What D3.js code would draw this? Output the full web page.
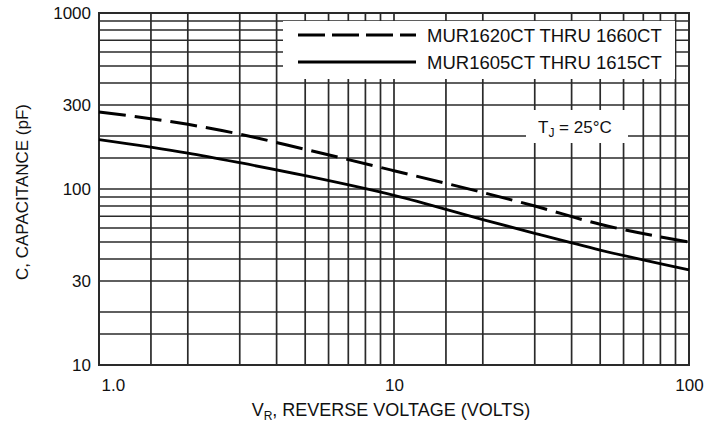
<!DOCTYPE html>
<html><head><meta charset="utf-8">
<script src="https://cdn.jsdelivr.net/npm/d3@7"></script>
<style>
body{margin:0;background:#fff;}
text{font-family:"Liberation Sans",Arial,sans-serif;fill:#111;}
</style></head>
<body><svg id="c" width="706" height="426"></svg>
<script>
// ---- data ----
const voltage  = [1, 2, 3, 5, 10, 20, 30, 50, 100];
const capHighV = [274, 233, 205, 168, 127, 95.5, 80, 63, 50];   // MUR1620CT THRU 1660CT
const capLowV  = [191, 160, 141, 119, 92, 67, 56, 45, 34.7];    // MUR1605CT THRU 1615CT
const seriesNames = ["MUR1620CT THRU 1660CT", "MUR1605CT THRU 1615CT"];
const xTickLabels = [1, 10, 100];
const yTickLabels = [10, 30, 100, 300, 1000];
const xGrid = [1,1.5,2,3,4,5,6,7,8,9,10,15,20,30,40,50,60,70,80,90,100];
const yGrid = [10,15,20,30,40,50,60,70,80,90,100,150,200,300,400,500,600,700,800,900,1000];

const svg = d3.select("#c");
const L = 99, R = 689, T = 13, B = 365;
const x = d3.scaleLog().domain([1,100]).range([L,R]);
const y = d3.scaleLog().domain([10,1000]).range([B,T]);

// grid
const g = svg.append("g");
g.selectAll(".vx").data(xGrid).join("line")
  .attr("x1", d=>x(d)).attr("x2", d=>x(d)).attr("y1", T).attr("y2", B)
  .attr("stroke", "#2a2a2a").attr("stroke-width", 1.7);
g.selectAll(".hy").data(yGrid).join("line")
  .attr("y1", d=>y(d)).attr("y2", d=>y(d)).attr("x1", L).attr("x2", R)
  .attr("stroke", "#2a2a2a").attr("stroke-width", 1.5);
g.append("rect").attr("x",L).attr("y",T).attr("width",R-L).attr("height",B-T)
  .attr("fill","none").attr("stroke","#2a2a2a").attr("stroke-width",2);

// legend box (white)
svg.append("rect").attr("x",283).attr("y",21).attr("width",392).attr("height",58).attr("fill","#fff");
// TJ box
svg.append("rect").attr("x",526).attr("y",110).attr("width",102).attr("height",33).attr("fill","#fff");

// curves
const line = d3.line().x(d=>x(d[0])).y(d=>y(d[1])).curve(d3.curveMonotoneX);
svg.append("path").datum(voltage.map((v,i)=>[v,capHighV[i]]))
  .attr("d", line).attr("fill","none").attr("stroke","#000").attr("stroke-width",3)
  .attr("stroke-dasharray","27,9");
svg.append("path").datum(voltage.map((v,i)=>[v,capLowV[i]]))
  .attr("d", line).attr("fill","none").attr("stroke","#000").attr("stroke-width",2.8);

// legend
const leg = svg.append("g");
[0,1].forEach(i=>{
  const yy = i===0 ? 35 : 62;
  leg.append("line").attr("x1",298).attr("x2",416).attr("y1",yy).attr("y2",yy)
    .attr("stroke","#000").attr("stroke-width",3)
    .attr("stroke-dasharray", i===0 ? "27,7" : null);
  leg.append("text").attr("x",427).attr("y",yy+6.5).attr("font-size",18.5).text(seriesNames[i]);
});

// TJ label
const tj = svg.append("text").attr("x",538).attr("y",133).attr("font-size",17);
tj.append("tspan").text("T");
tj.append("tspan").attr("font-size",12).attr("dy",4).text("J");
tj.append("tspan").attr("dy",-4).text(" = 25°C");

// axes (labels only)
const xa = svg.append("g").attr("transform",`translate(0,${B})`)
  .call(d3.axisBottom(x).tickValues(xTickLabels).tickFormat(d=> d===1 ? "1.0" : d3.format("d")(d)).tickSize(0).tickPadding(14));
xa.select(".domain").remove();
xa.selectAll("text").attr("font-size",17).attr("font-family","Liberation Sans, Arial, sans-serif").attr("fill","#111")
  .attr("text-anchor", d=> d===1 ? "start" : "middle").attr("dx", d=> d===1 ? 2 : 0);
const ya = svg.append("g").attr("transform",`translate(${L},0)`)
  .call(d3.axisLeft(y).tickValues(yTickLabels).tickFormat(d3.format("d")).tickSize(0).tickPadding(8));
ya.select(".domain").remove();
ya.selectAll("text").attr("font-size",17).attr("font-family","Liberation Sans, Arial, sans-serif").attr("fill","#111");

// axis titles
const xt = svg.append("text").attr("x",391).attr("y",416).attr("text-anchor","middle").attr("font-size",18);
xt.append("tspan").text("V");
xt.append("tspan").attr("font-size",12).attr("dy",4).text("R");
xt.append("tspan").attr("dy",-4).text(", REVERSE VOLTAGE (VOLTS)");
svg.append("text").attr("transform","translate(28,192) rotate(-90)").attr("text-anchor","middle")
  .attr("font-size",17).text("C, CAPACITANCE (pF)");
</script></body></html>
